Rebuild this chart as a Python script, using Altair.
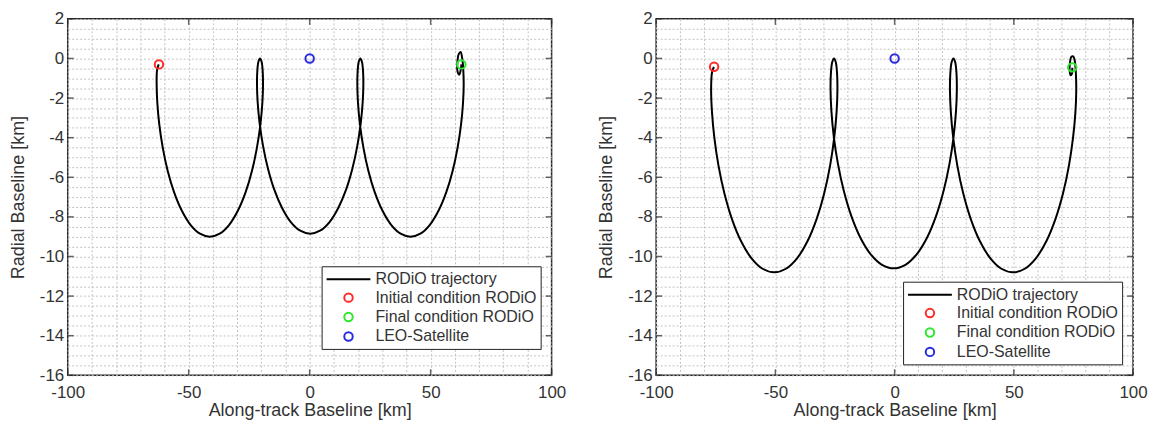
import altair as alt
import pandas as pd

# ---------------- data ----------------
left_x = [-62.4, -63.09, -63.25, -62.97, -62.15, -60.73, -58.70, -56.06, -52.88, -49.27, -45.35, -41.27,
          -37.18, -33.26, -29.65, -26.47, -23.84, -21.80, -20.38, -19.56, -19.28, -19.44, -19.90, -20.53,
          -21.16, -21.62, -21.78, -21.50, -20.68, -19.26, -17.23, -14.59, -11.41, -7.80, -3.88, 0.21,
          4.29, 8.21, 11.82, 15.00, 17.64, 19.67, 21.09, 21.91, 22.19, 22.03, 21.57, 20.94,
          20.31, 19.85, 19.69, 19.97, 20.79, 22.21, 24.25, 26.88, 30.06, 33.67, 37.59, 41.68,
          45.76, 49.68, 53.29, 56.47, 59.11, 61.14, 62.56, 63.38, 63.66, 63.50,
          63.1, 62.4, 61.6, 61.05, 61.1, 61.8, 62.5, 62.7]
left_y = [-0.30, -0.60, -1.32, -2.25, -3.34, -4.50, -5.67, -6.75, -7.68, -8.40, -8.85, -9.00,
          -8.85, -8.40, -7.68, -6.75, -5.67, -4.50, -3.34, -2.25, -1.32, -0.60, -0.15, 0.00,
          -0.15, -0.59, -1.30, -2.21, -3.28, -4.43, -5.57, -6.64, -7.55, -8.26, -8.70, -8.85,
          -8.70, -8.26, -7.55, -6.64, -5.57, -4.43, -3.28, -2.21, -1.30, -0.59, -0.15, 0.00,
          -0.15, -0.60, -1.32, -2.25, -3.34, -4.50, -5.67, -6.75, -7.68, -8.40, -8.85, -9.00,
          -8.85, -8.40, -7.68, -6.75, -5.67, -4.50, -3.34, -2.25, -1.32, -0.60,
          -0.05, 0.33, 0.22, -0.20, -0.65, -0.82, -0.55, -0.30]

right_x = [-75.8, -76.6, -76.95, -76.59, -75.60, -73.88, -71.42, -68.25, -64.43, -60.09, -55.37, -50.46,
           -45.56, -40.84, -36.50, -32.68, -29.50, -27.04, -25.33, -24.33, -23.98, -24.15, -24.69, -25.42,
           -26.15, -26.70, -26.87, -26.51, -25.52, -23.80, -21.34, -18.17, -14.35, -10.01, -5.29, -0.38,
           4.53, 9.24, 13.59, 17.40, 20.58, 23.04, 24.75, 25.75, 26.10, 25.93, 25.39, 24.66,
           23.93, 23.38, 23.21, 23.57, 24.57, 26.28, 28.74, 31.91, 35.73, 40.08, 44.79, 49.70,
           54.61, 59.32, 63.67, 67.48, 70.66, 73.12, 74.83, 75.83, 76.18, 76.01,
           75.6, 74.9, 74.1, 73.5, 73.4, 73.8, 74.4, 74.5]
right_y = [-0.42, -0.72, -1.58, -2.70, -4.00, -5.40, -6.80, -8.10, -9.22, -10.08, -10.62, -10.80,
           -10.62, -10.08, -9.22, -8.10, -6.80, -5.40, -4.00, -2.70, -1.58, -0.72, -0.18, 0.00,
           -0.18, -0.71, -1.55, -2.65, -3.93, -5.30, -6.67, -7.95, -9.05, -9.89, -10.42, -10.60,
           -10.42, -9.89, -9.05, -7.95, -6.67, -5.30, -3.93, -2.65, -1.55, -0.71, -0.18, 0.00,
           -0.18, -0.72, -1.58, -2.70, -4.00, -5.40, -6.80, -8.10, -9.22, -10.08, -10.62, -10.80,
           -10.62, -10.08, -9.22, -8.10, -6.80, -5.40, -4.00, -2.70, -1.58, -0.72,
           -0.15, 0.10, 0.08, -0.25, -0.62, -0.85, -0.75, -0.47]

marker_labels = ["Initial condition RODiO", "Final condition RODiO", "LEO-Satellite"]
left_marker_x = [-62.3, 62.7, 0.0]
left_marker_y = [-0.30, -0.30, 0.0]
right_marker_x = [-75.7, 74.5, 0.0]
right_marker_y = [-0.42, -0.45, 0.0]

legend_items = ["RODiO trajectory"] + marker_labels
legend_colors = ["#000000", "#ff2a2a", "#2ee82e", "#2a2ae0"]
# legend symbol of the trajectory: a horizontal stroke (unit-space path)
legend_shapes = ["M-2.75,0L2.75,0", "circle", "circle", "circle"]

x_grid_values = list(range(-100, 101, 10))
y_grid_values = [v / 2 for v in range(-32, 5)]
x_major_ticks = [-100, -50, 0, 50, 100]
y_major_ticks = [-16, -14, -12, -10, -8, -6, -4, -2, 0, 2]

FONT = "Liberation Sans"
TXT = "#333333"
BOX = "#222222"


def panel(xs, ys, mx, my, w, h, lx, ly):
    traj = pd.DataFrame({"x": xs, "y": ys, "order": list(range(len(xs)))})
    marks = pd.DataFrame({"x": mx, "y": my, "series": marker_labels})
    xt = pd.DataFrame({"x": x_major_ticks})
    yt = pd.DataFrame({"y": y_major_ticks})

    xscale = alt.Scale(domain=[-100, 100], nice=False, zero=False)
    yscale = alt.Scale(domain=[-16, 2], nice=False, zero=False)
    common = dict(
        grid=True, gridColor="#c2c2c2", gridDash=[2, 2], gridWidth=1,
        ticks=False, domain=False, labelOverlap=False, labelFlush=False,
        labelFont=FONT, labelFontSize=17, labelColor=TXT,
        titleFont=FONT, titleFontSize=18, titleFontWeight="normal", titleColor=TXT,
    )
    xaxis = alt.Axis(title="Along-track Baseline [km]", values=x_grid_values,
                     labelExpr="datum.value % 50 === 0 ? toString(datum.value) : ''",
                     labelPadding=9, titlePadding=1, **common)
    yaxis = alt.Axis(title="Radial Baseline [km]", values=y_grid_values,
                     labelExpr="datum.value % 2 === 0 ? toString(datum.value) : ''",
                     labelPadding=4, titlePadding=12, **common)

    X = alt.X("x:Q", scale=xscale, axis=xaxis)
    Y = alt.Y("y:Q", scale=yscale, axis=yaxis)

    leg = alt.Legend(title=None, orient="none", legendX=lx, legendY=ly,
                     strokeColor=BOX, fillColor="white", padding=4,
                     labelFont=FONT, labelFontSize=16, labelColor=TXT, labelLimit=400,
                     symbolStrokeWidth=2, symbolOffset=14, rowPadding=1.5, labelOffset=18)

    line = alt.Chart(traj).mark_line(color="black", strokeWidth=2, interpolate="catmull-rom").encode(
        x=X, y=Y, order="order:Q",
    )
    pts = alt.Chart(marks).mark_point(filled=False, strokeWidth=2, opacity=1).encode(
        x=X, y=Y,
        color=alt.Color("series:N", scale=alt.Scale(domain=legend_items, range=legend_colors), legend=leg),
        shape=alt.Shape("series:N", scale=alt.Scale(domain=legend_items, range=legend_shapes), legend=leg),
        size=alt.Size("series:N", scale=alt.Scale(type="ordinal", domain=legend_items,
                                                  range=[256, 72, 72, 72]), legend=leg),
    )
    # MATLAB-style inward tick marks on the four sides of the box
    tick_style = dict(color=BOX, thickness=1.5, size=6)
    xb = alt.Chart(xt).mark_tick(orient="vertical", **tick_style).encode(x=X, y=alt.value(h - 3))
    xtop = alt.Chart(xt).mark_tick(orient="vertical", **tick_style).encode(x=X, y=alt.value(3))
    yl = alt.Chart(yt).mark_tick(orient="horizontal", **tick_style).encode(y=Y, x=alt.value(3))
    yr = alt.Chart(yt).mark_tick(orient="horizontal", **tick_style).encode(y=Y, x=alt.value(w - 3))
    return alt.layer(xb, xtop, yl, yr, line, pts).properties(width=w, height=h)


left = panel(left_x, left_y, left_marker_x, left_marker_y, 486, 358, 255, 248.5)
right = panel(right_x, right_y, right_marker_x, right_marker_y, 479, 358, 248, 264)

chart = alt.hconcat(left, right, spacing=30).resolve_scale(
    color="independent", shape="independent", size="independent"
).resolve_legend(
    color="independent", shape="independent", size="independent"
).configure_view(stroke=BOX, strokeWidth=1.5).properties(
    padding={"left": 0, "top": 0, "right": 0, "bottom": 0}, background="white"
)

chart.save("out.html", embed_options={"renderer": "svg", "actions": False})
